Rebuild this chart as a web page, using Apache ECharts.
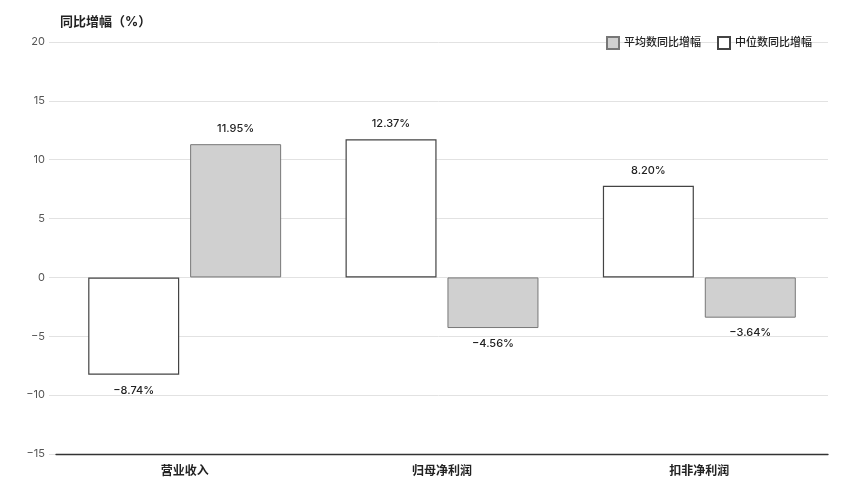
<!DOCTYPE html>
<html lang="zh">
<head>
    <meta charset="UTF-8">
    <title>同比增幅</title>
    <script src="https://cdn.jsdelivr.net/npm/echarts@6/dist/echarts.min.js"></script>
    <style>
        html, body, #main {
            margin: 0;
            padding: 0;
            width: 100%;
            height: 100%;
            background: #fff;
        }
    </style>
</head>
<body>
    <div id="main"></div>
    <script type="text/javascript">
        // 数据
        var categories = ['营业收入', '归母净利润', '扣非净利润'];
        var seriesNames = ['中位数同比增幅', '平均数同比增幅'];
        var medianValues = [-8.27, 11.74, 7.78];
        var averageValues = [11.32, -4.30, -3.42];
        var medianLabels = ['-8.74%', '12.37%', '8.20%'];
        var averageLabels = ['11.95%', '-4.56%', '-3.64%'];
        var yTicks = { min: -15, max: 20, interval: 5 };

        var font = 'Inter, "Noto Sans CJK SC", sans-serif';

        function minus(s) {
            return String(s).replace('-', '\u2212');
        }

        function buildData(values, labels) {
            return values.map(function (v, i) {
                return {
                    value: v,
                    label: {
                        position: v >= 0 ? 'top' : 'bottom',
                        formatter: minus(labels[i])
                    }
                };
            });
        }

        var chart = echarts.init(document.getElementById('main'));

        var option = {
            backgroundColor: '#fff',
            animation: false,
            textStyle: { fontFamily: font },
            title: {
                text: '同比增幅（%）',
                left: 55,
                top: 11,
                textStyle: {
                    fontSize: 13,
                    fontWeight: 'bold',
                    color: '#222',
                    fontFamily: font
                }
            },
            legend: {
                data: ['平均数同比增幅', '中位数同比增幅'],
                right: 40,
                top: 31,
                itemWidth: 12,
                itemHeight: 12,
                itemGap: 16,
                icon: 'rect',
                textStyle: { fontSize: 11, fontWeight: 500, color: '#222', fontFamily: font }
            },
            grid: [
                { left: 49, right: 29, top: 42, bottom: 40 },
                { left: 56, right: 29, top: 42, bottom: 40 }
            ],
            xAxis: [
                {
                    type: 'category',
                    gridIndex: 0,
                    data: categories,
                    show: false
                },
                {
                    type: 'category',
                    gridIndex: 1,
                    data: categories,
                    axisLine: { onZero: false, lineStyle: { color: '#333', width: 1.3 } },
                    axisTick: { show: false },
                    axisLabel: {
                        margin: 11,
                        fontSize: 12,
                        fontWeight: 'bold',
                        color: '#222',
                        fontFamily: font
                    }
                }
            ],
            yAxis: [
                {
                    type: 'value',
                    gridIndex: 0,
                    min: yTicks.min,
                    max: yTicks.max,
                    interval: yTicks.interval,
                    axisLine: { show: false },
                    axisTick: { show: false },
                    splitLine: { lineStyle: { color: '#e2e2e2' } },
                    axisLabel: {
                        margin: 4,
                        fontSize: 11,
                        color: '#555',
                        fontFamily: font,
                        formatter: function (v) { return minus(v); }
                    }
                },
                {
                    type: 'value',
                    gridIndex: 1,
                    min: yTicks.min,
                    max: yTicks.max,
                    interval: yTicks.interval,
                    show: false,
                    splitLine: { show: false }
                }
            ],
            series: [
                {
                    name: seriesNames[0],
                    type: 'bar',
                    xAxisIndex: 1,
                    yAxisIndex: 1,
                    barWidth: 91,
                    barGap: '12%',
                    data: buildData(medianValues, medianLabels),
                    itemStyle: { color: '#fff', borderColor: '#444', borderWidth: 1.2 },
                    label: {
                        show: true,
                        distance: 10,
                        fontSize: 11,
                        fontWeight: 500,
                        color: '#222',
                        fontFamily: font
                    }
                },
                {
                    name: seriesNames[1],
                    type: 'bar',
                    xAxisIndex: 1,
                    yAxisIndex: 1,
                    barWidth: 91,
                    barGap: '12%',
                    data: buildData(averageValues, averageLabels),
                    itemStyle: { color: '#d0d0d0', borderColor: '#777', borderWidth: 1 },
                    label: {
                        show: true,
                        distance: 10,
                        fontSize: 11,
                        fontWeight: 500,
                        color: '#222',
                        fontFamily: font
                    }
                }
            ]
        };

        chart.setOption(option);
        window.onresize = function () {
            chart.resize();
        };
    </script>
</body>
</html>
